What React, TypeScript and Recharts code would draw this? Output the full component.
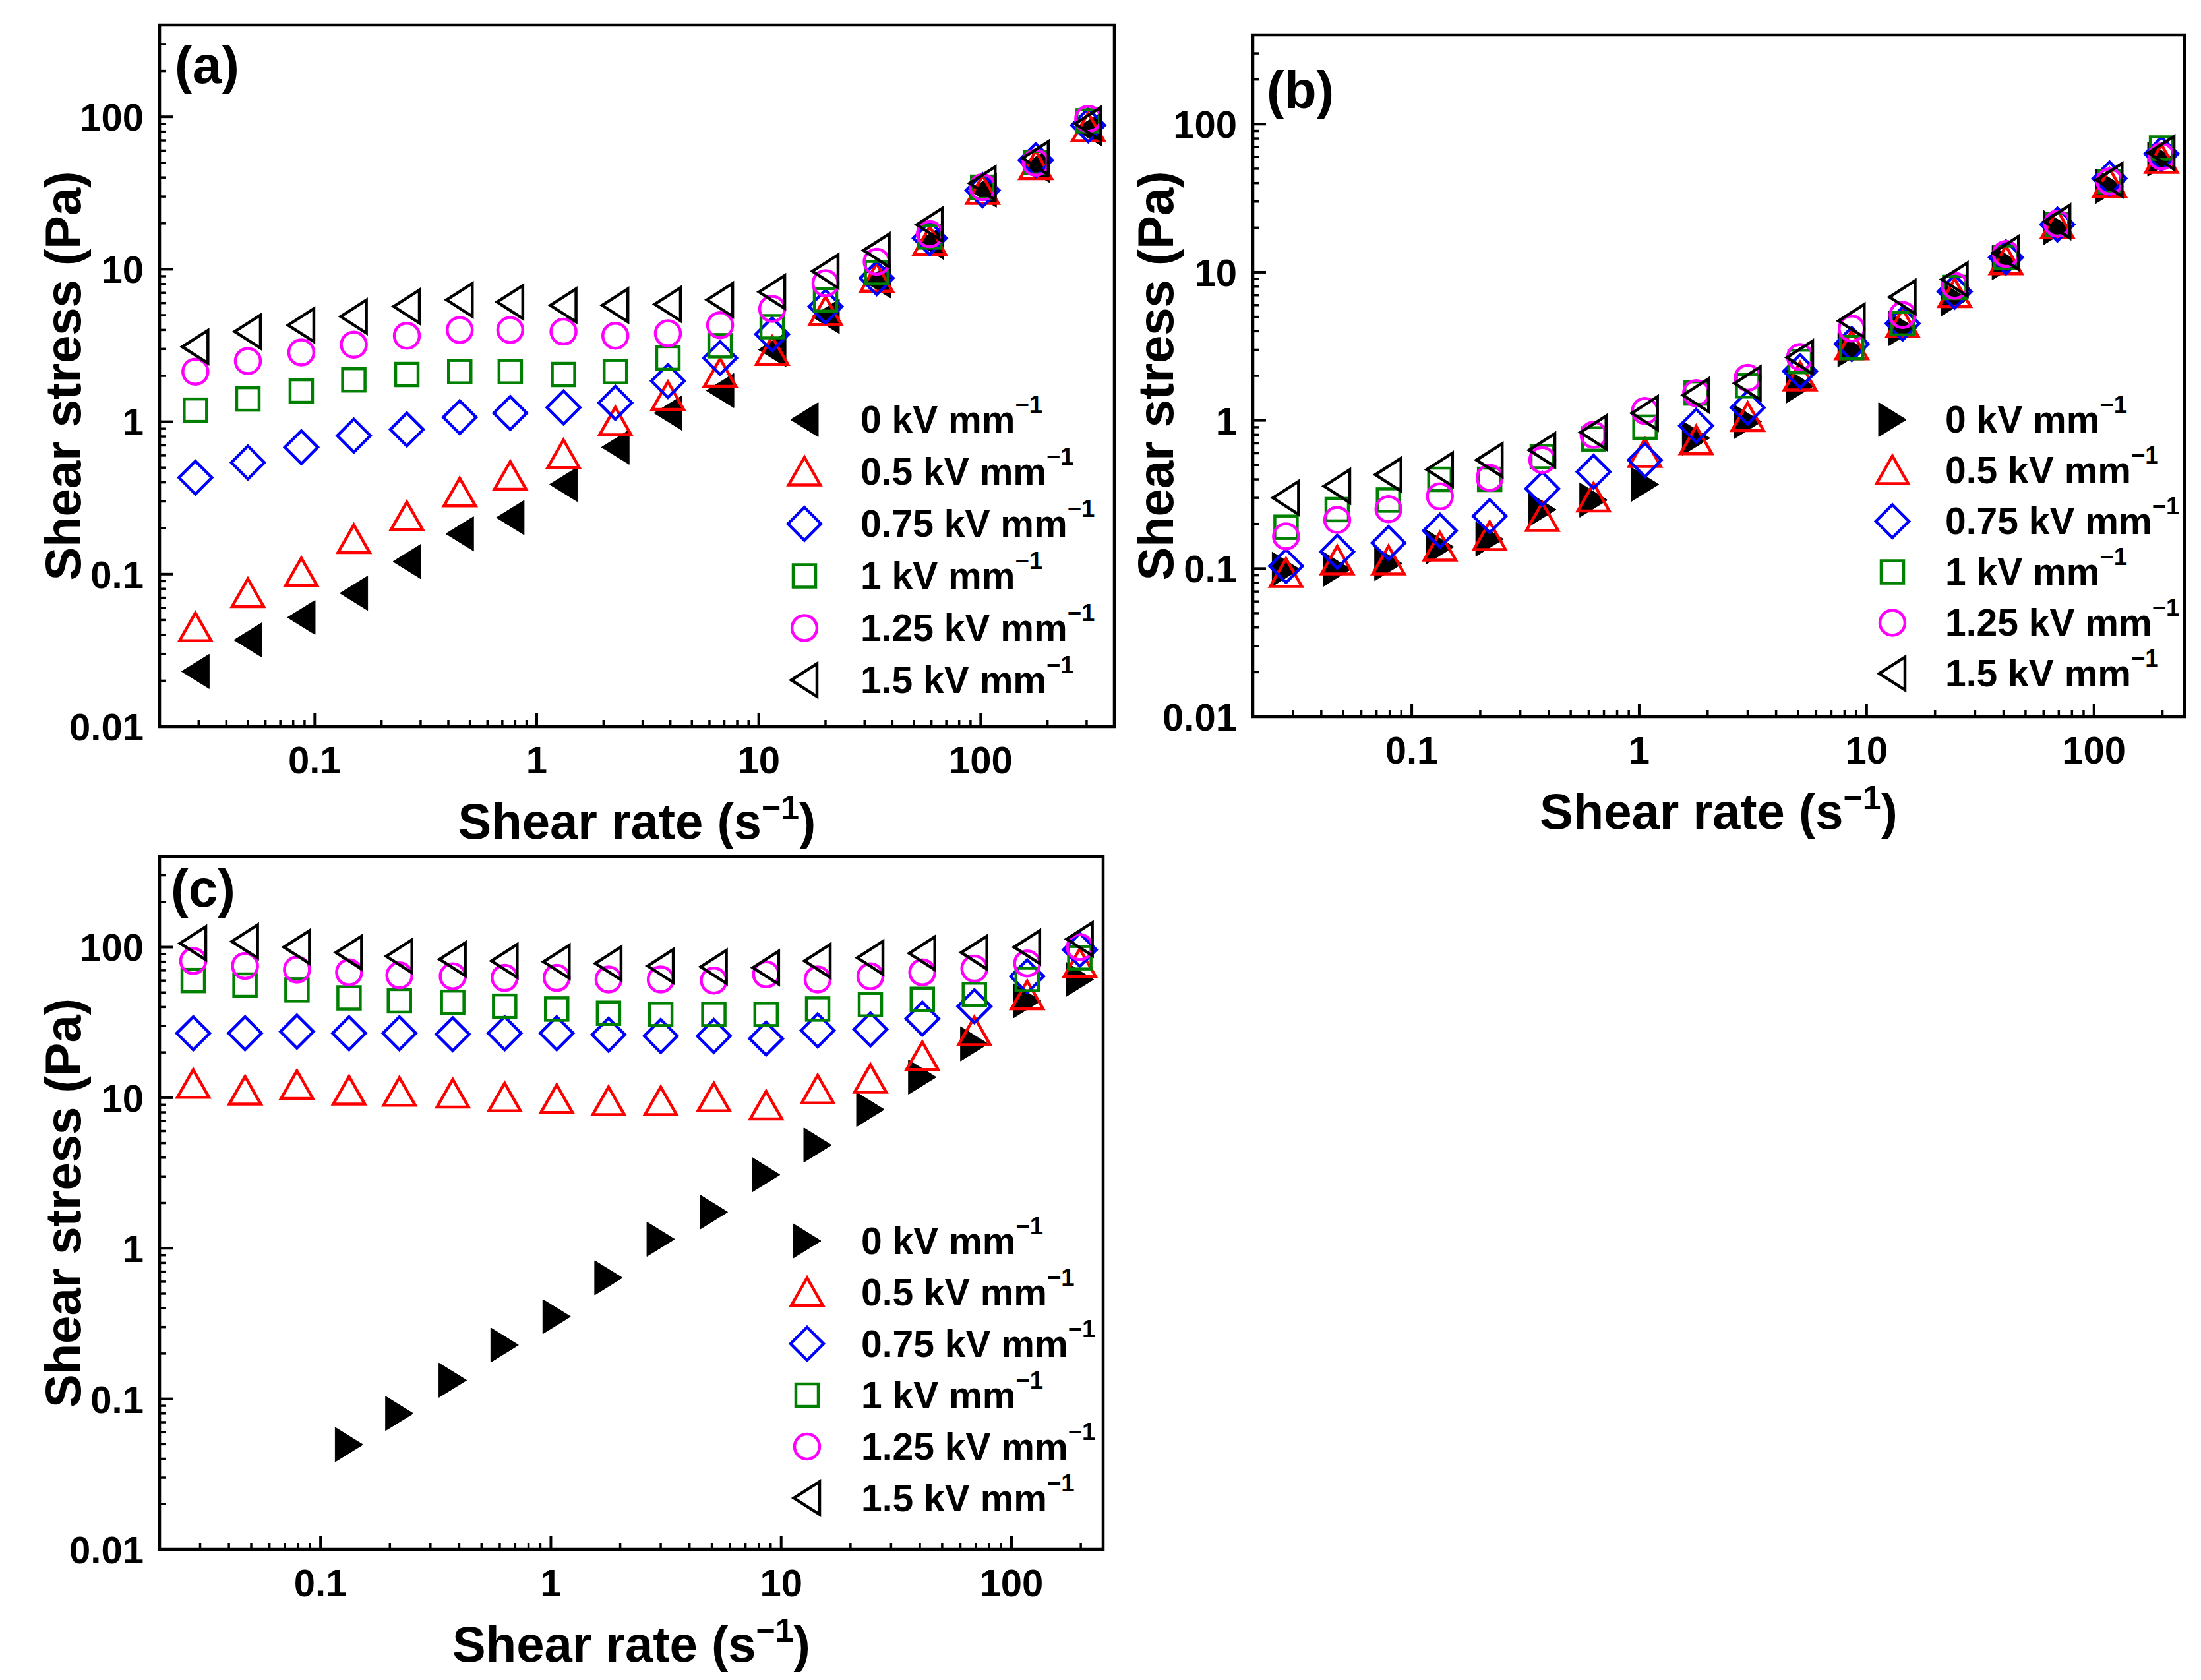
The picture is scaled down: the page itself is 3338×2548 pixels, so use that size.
import React from 'react';
import { ScatterChart, Scatter, XAxis, YAxis, ReferenceArea, Legend, Label } from 'recharts';

const FONT = '"Liberation Sans", Arial, Helvetica, sans-serif';

// ---------- Panel (a) ----------
const aShearRate = [0.029, 0.05, 0.087, 0.15, 0.26, 0.45, 0.76, 1.32, 2.26, 3.9, 6.7, 11.5, 20, 34, 59, 102, 177, 305];
const aStress0 = [0.023, 0.037, 0.052, 0.075, 0.121, 0.184, 0.235, 0.388, 0.68, 1.14, 1.6, 2.97, 4.9, 8.4, 15, 33, 48, 83];
const aStress05 = [0.0447, 0.0748, 0.1025, 0.169, 0.239, 0.342, 0.44, 0.61, 1.0, 1.47, 2.08, 2.9, 5.3, 8.75, 15.3, 33, 48, 85];
const aStress075 = [0.43, 0.54, 0.68, 0.81, 0.89, 1.07, 1.14, 1.24, 1.33, 1.85, 2.62, 3.75, 5.7, 8.75, 16, 33, 52, 88];
const aStress1 = [1.19, 1.41, 1.59, 1.88, 2.04, 2.13, 2.13, 2.04, 2.13, 2.62, 3.15, 4.2, 6.3, 9.5, 16.3, 34.5, 50, 94];
const aStress125 = [2.13, 2.5, 2.85, 3.2, 3.66, 4.0, 4.0, 3.9, 3.66, 3.8, 4.3, 5.5, 8.1, 11.2, 17, 34.5, 50, 97];
const aStress15 = [3.1, 3.9, 4.3, 4.9, 5.7, 6.3, 6.1, 5.8, 5.8, 5.9, 6.3, 7.1, 9.7, 13.3, 19.6, 36.6, 53.6, 90];

// ---------- Panel (b) ----------
const bShearRate = [0.028, 0.047, 0.079, 0.133, 0.22, 0.375, 0.63, 1.06, 1.78, 3.0, 5.1, 8.6, 14.4, 24.4, 41, 69, 117, 198];
const bStress0 = [0.099, 0.099, 0.108, 0.14, 0.158, 0.25, 0.29, 0.37, 0.76, 0.98, 1.71, 3.0, 4.17, 6.6, 11.6, 20, 38, 58];
const bStress05 = [0.093, 0.113, 0.113, 0.14, 0.165, 0.222, 0.3, 0.6, 0.73, 1.05, 1.97, 3.2, 4.5, 7.2, 12, 21, 40, 58];
const bStress075 = [0.104, 0.13, 0.149, 0.18, 0.226, 0.346, 0.45, 0.54, 0.92, 1.22, 2.15, 3.28, 4.5, 7.4, 12.6, 21, 43, 63];
const bStress1 = [0.19, 0.25, 0.29, 0.4, 0.4, 0.57, 0.75, 0.9, 1.53, 1.71, 2.5, 3.1, 4.5, 7.9, 12.6, 21, 41, 69];
const bStress125 = [0.165, 0.213, 0.252, 0.307, 0.41, 0.54, 0.8, 1.16, 1.53, 1.94, 2.68, 4.17, 5.15, 8.1, 13.3, 21.3, 41, 60.5];
const bStress15 = [0.3, 0.36, 0.43, 0.466, 0.54, 0.63, 0.83, 1.12, 1.48, 1.78, 2.66, 4.7, 6.8, 8.95, 13.5, 22, 42, 64];

// ---------- Panel (c) ----------
const cShearRate = [0.028, 0.047, 0.079, 0.133, 0.22, 0.375, 0.63, 1.06, 1.78, 3.0, 5.1, 8.6, 14.4, 24.4, 41, 69, 117, 198];
const cShearRate0 = [0.133, 0.22, 0.375, 0.63, 1.06, 1.78, 3.0, 5.1, 8.6, 14.4, 24.4, 41, 69, 117, 198];
const cStress0 = [0.0497, 0.08, 0.133, 0.228, 0.352, 0.637, 1.15, 1.74, 3.08, 4.85, 8.35, 13.7, 22.8, 44, 61];
const cStress05 = [12.3, 11.1, 12.1, 11.1, 10.9, 10.6, 10.0, 9.76, 9.44, 9.44, 10, 8.84, 11.3, 13.3, 18.8, 27.5, 47.7, 78];
const cStress075 = [26.8, 26.8, 27.5, 26.8, 26.8, 26.4, 26.8, 26.8, 26.2, 25.7, 25.7, 24.7, 28, 28.4, 33.5, 40.5, 64, 96];
const cStress1 = [60, 56, 52, 46, 44, 43, 40.5, 38.8, 36.4, 35.8, 35.8, 35.8, 38.8, 41.5, 45, 48.5, 61, 85];
const cStress125 = [81, 75, 71, 68, 65, 64, 62.5, 62.5, 61, 61, 60, 66, 61, 64, 68, 72, 78, 100];
const cStress15 = [106, 109, 100, 92, 87, 83, 81, 80, 78, 75, 74, 73, 81, 85, 91, 92, 100, 113];

// ---------- Labels and ticks ----------
const seriesNames = ['0 kV mm', '0.5 kV mm', '0.75 kV mm', '1 kV mm', '1.25 kV mm', '1.5 kV mm'];
const yMajorTicks = [0.01, 0.1, 1, 10, 100];
const yTickLabels = ['0.01', '0.1', '1', '10', '100'];
const yMinorTicks = [0.02, 0.03, 0.04, 0.05, 0.06, 0.07, 0.08, 0.09, 0.2, 0.3, 0.4, 0.5, 0.6, 0.7, 0.8, 0.9, 2, 3, 4, 5, 6, 7, 8, 9, 20, 30, 40, 50, 60, 70, 80, 90, 200, 300, 400];
const xMajorTicks = [0.1, 1, 10, 100];
const xTickLabels = ['0.1', '1', '10', '100'];
const xMinorTicksA = [0.02, 0.03, 0.04, 0.05, 0.06, 0.07, 0.08, 0.09, 0.2, 0.3, 0.4, 0.5, 0.6, 0.7, 0.8, 0.9, 2, 3, 4, 5, 6, 7, 8, 9, 20, 30, 40, 50, 60, 70, 80, 90, 200, 300, 400];
const xMinorTicksBC = [0.02, 0.03, 0.04, 0.05, 0.06, 0.07, 0.08, 0.09, 0.2, 0.3, 0.4, 0.5, 0.6, 0.7, 0.8, 0.9, 2, 3, 4, 5, 6, 7, 8, 9, 20, 30, 40, 50, 60, 70, 80, 90, 200];
const xDomainA = [0.02, 400];
const xDomainBC = [0.02, 250];
const yDomain = [0.01, 400];

const zip = (xs: number[], ys: number[]) => ys.map((y, i) => ({ x: xs[i], y }));

const SW = 4.5;

type Kind = 'filledLeft' | 'filledRight' | 'openUp' | 'openDiamond' | 'openSquare' | 'openCircle' | 'openLeft';

function Marker({ kind, cx, cy, color }: { kind: Kind; cx: number; cy: number; color: string }) {
  switch (kind) {
    case 'filledLeft':
      return <polygon points={`${cx - 21},${cy} ${cx + 21},${cy - 26} ${cx + 21},${cy + 26}`} fill={color} stroke={color} strokeWidth={1} />;
    case 'filledRight':
      return <polygon points={`${cx + 21},${cy} ${cx - 21},${cy - 26} ${cx - 21},${cy + 26}`} fill={color} stroke={color} strokeWidth={1} />;
    case 'openLeft':
      return <polygon points={`${cx - 20},${cy} ${cx + 19},${cy - 25} ${cx + 19},${cy + 25}`} fill="none" stroke={color} strokeWidth={SW} />;
    case 'openUp':
      return <polygon points={`${cx},${cy - 22} ${cx - 24},${cy + 20} ${cx + 24},${cy + 20}`} fill="none" stroke={color} strokeWidth={SW} />;
    case 'openDiamond':
      return <polygon points={`${cx},${cy - 25} ${cx + 25},${cy} ${cx},${cy + 25} ${cx - 25},${cy}`} fill="none" stroke={color} strokeWidth={SW} />;
    case 'openSquare':
      return <rect x={cx - 17} y={cy - 17} width={34} height={34} fill="none" stroke={color} strokeWidth={SW} />;
    case 'openCircle':
      return <circle cx={cx} cy={cy} r={19} fill="none" stroke={color} strokeWidth={SW} />;
    default:
      return null;
  }
}

const YTick = (props: any) => {
  const { x, y, payload } = props;
  const idx = yMajorTicks.indexOf(payload.value);
  const major = idx >= 0;
  return (
    <g>
      <line x1={x} x2={x + (major ? 20 : 10)} y1={y} y2={y} stroke="#000" strokeWidth={major ? 4 : 3.5} />
      {major && (
        <text x={x - 24} y={y} dy="0.36em" textAnchor="end" fontFamily={FONT} fontWeight="bold" fontSize={58} fill="#000">
          {yTickLabels[idx]}
        </text>
      )}
    </g>
  );
};

const XTick = (props: any) => {
  const { x, y, payload } = props;
  const idx = xMajorTicks.indexOf(payload.value);
  const major = idx >= 0;
  return (
    <g>
      <line x1={x} x2={x} y1={y} y2={y - (major ? 20 : 10)} stroke="#000" strokeWidth={major ? 4 : 3.5} />
      {major && (
        <text x={x} y={y + 50} dy="0.36em" textAnchor="middle" fontFamily={FONT} fontWeight="bold" fontSize={58} fill="#000">
          {xTickLabels[idx]}
        </text>
      )}
    </g>
  );
};

type SeriesDef = { data: { x: number; y: number }[]; kind: Kind; color: string };

type PanelProps = {
  left: number;
  top: number;
  width: number;
  height: number;
  margin: { top: number; right: number; bottom: number; left: number };
  yAxisWidth: number;
  xAxisHeight: number;
  xDomain: number[];
  xMinor: number[];
  series: SeriesDef[];
  legend: { x: number; y: number; rowH: number; gap: number };
  label: { text: string; x: number; y: number };
  yTitleX: number;
};

function LegendBox({ series, rowH, gap }: { series: SeriesDef[]; rowH: number; gap: number }) {
  return (
    <div style={{ fontFamily: FONT, fontWeight: 'bold', fontSize: 57, color: '#000' }}>
      {series.map((s, i) => (
        <div key={i} style={{ display: 'flex', alignItems: 'center', height: rowH, whiteSpace: 'nowrap' }}>
          <svg width={60} height={rowH} style={{ flex: 'none', overflow: 'visible' }}>
            <Marker kind={s.kind} cx={30} cy={rowH / 2} color={s.color} />
          </svg>
          <span style={{ marginLeft: gap, lineHeight: 1 }}>
            {seriesNames[i]}
            <span style={{ fontSize: '0.64em', position: 'relative', top: '-0.8em' }}>−1</span>
          </span>
        </div>
      ))}
    </div>
  );
}

function Panel(p: PanelProps) {
  const plotLeft = p.margin.left + p.yAxisWidth;
  const plotTop = p.margin.top;
  const plotW = p.width - plotLeft - p.margin.right;
  const plotH = p.height - p.margin.top - p.margin.bottom - p.xAxisHeight;
  const xTitle = () => (
    <text x={plotLeft + plotW / 2} y={plotTop + plotH + 170} textAnchor="middle" fontFamily={FONT} fontWeight="bold" fontSize={76} fill="#000">
      Shear rate (s
      <tspan dy={-30} fontSize={50}>−1</tspan>
      <tspan dy={30}>)</tspan>
    </text>
  );
  const yTitle = () => {
    const cx = p.yTitleX;
    const cy = plotTop + plotH / 2;
    return (
      <text x={cx} y={cy} dy="0.36em" textAnchor="middle" transform={`rotate(-90, ${cx}, ${cy})`} fontFamily={FONT} fontWeight="bold" fontSize={76} fill="#000">
        Shear stress (Pa)
      </text>
    );
  };
  const panelLabel = () => (
    <text x={p.label.x} y={p.label.y} fontFamily={FONT} fontWeight="bold" fontSize={80} fill="#000">
      {p.label.text}
    </text>
  );
  return (
    <div style={{ position: 'absolute', left: p.left, top: p.top, width: p.width, height: p.height }}>
      <ScatterChart width={p.width} height={p.height} margin={p.margin}>
        <XAxis
          type="number"
          dataKey="x"
          scale="log"
          domain={p.xDomain}
          allowDataOverflow
          ticks={[...xMajorTicks, ...p.xMinor]}
          interval={0}
          tick={XTick}
          tickLine={false}
          axisLine={false}
          tickSize={0}
          tickMargin={0}
          height={p.xAxisHeight}
        >
          <Label content={xTitle} />
        </XAxis>
        <YAxis
          type="number"
          dataKey="y"
          scale="log"
          domain={yDomain}
          allowDataOverflow
          ticks={[...yMajorTicks, ...yMinorTicks]}
          interval={0}
          tick={YTick}
          tickLine={false}
          axisLine={false}
          tickSize={0}
          tickMargin={0}
          width={p.yAxisWidth}
        >
          <Label content={yTitle} />
          <Label content={panelLabel} />
        </YAxis>
        <ReferenceArea
          x1={p.xDomain[0]}
          x2={p.xDomain[1]}
          y1={yDomain[0]}
          y2={yDomain[1]}
          fill="none"
          fillOpacity={0}
          stroke="#000"
          strokeWidth={4.5}
          ifOverflow="visible"
        />
        {p.series.map((s, i) => (
          <Scatter
            key={i}
            name={seriesNames[i]}
            data={s.data}
            isAnimationActive={false}
            shape={(sp: any) => <Marker kind={s.kind} cx={sp.cx} cy={sp.cy} color={s.color} />}
          />
        ))}
        <Legend
          layout="vertical"
          align="center"
          verticalAlign="middle"
          wrapperStyle={{ left: p.legend.x - 30, top: p.legend.y - p.legend.rowH / 2, width: 600, height: p.legend.rowH * 6 }}
          content={() => <LegendBox series={p.series} rowH={p.legend.rowH} gap={p.legend.gap} />}
        />
      </ScatterChart>
    </div>
  );
}

const RED = '#ff0000';
const BLUE = '#0000ff';
const GREEN = '#008000';
const MAGENTA = '#ff00ff';
const BLACK = '#000000';

const seriesA: SeriesDef[] = [
  { data: zip(aShearRate, aStress0), kind: 'filledLeft', color: BLACK },
  { data: zip(aShearRate, aStress05), kind: 'openUp', color: RED },
  { data: zip(aShearRate, aStress075), kind: 'openDiamond', color: BLUE },
  { data: zip(aShearRate, aStress1), kind: 'openSquare', color: GREEN },
  { data: zip(aShearRate, aStress125), kind: 'openCircle', color: MAGENTA },
  { data: zip(aShearRate, aStress15), kind: 'openLeft', color: BLACK },
];
const seriesB: SeriesDef[] = [
  { data: zip(bShearRate, bStress0), kind: 'filledRight', color: BLACK },
  { data: zip(bShearRate, bStress05), kind: 'openUp', color: RED },
  { data: zip(bShearRate, bStress075), kind: 'openDiamond', color: BLUE },
  { data: zip(bShearRate, bStress1), kind: 'openSquare', color: GREEN },
  { data: zip(bShearRate, bStress125), kind: 'openCircle', color: MAGENTA },
  { data: zip(bShearRate, bStress15), kind: 'openLeft', color: BLACK },
];
const seriesC: SeriesDef[] = [
  { data: zip(cShearRate0, cStress0), kind: 'filledRight', color: BLACK },
  { data: zip(cShearRate, cStress05), kind: 'openUp', color: RED },
  { data: zip(cShearRate, cStress075), kind: 'openDiamond', color: BLUE },
  { data: zip(cShearRate, cStress1), kind: 'openSquare', color: GREEN },
  { data: zip(cShearRate, cStress125), kind: 'openCircle', color: MAGENTA },
  { data: zip(cShearRate, cStress15), kind: 'openLeft', color: BLACK },
];

export default function App() {
  return (
    <div style={{ position: 'absolute', left: 0, top: 0, width: 3338, height: 2548, background: '#fff', overflow: 'hidden' }}>
      <Panel
        left={0}
        top={0}
        width={1700}
        height={1290}
        margin={{ top: 38, right: 10, bottom: 0, left: 0 }}
        yAxisWidth={242}
        xAxisHeight={188}
        xDomain={xDomainA}
        xMinor={xMinorTicksA}
        series={seriesA}
        legend={{ x: 1220, y: 636, rowH: 79, gap: 55 }}
        label={{ text: '(a)', x: 265, y: 126 }}
        yTitleX={95}
      />
      <Panel
        left={1700}
        top={0}
        width={1638}
        height={1290}
        margin={{ top: 53, right: 25, bottom: 0, left: 0 }}
        yAxisWidth={200}
        xAxisHeight={203}
        xDomain={xDomainBC}
        xMinor={xMinorTicksBC}
        series={seriesB}
        legend={{ x: 1170, y: 636, rowH: 77, gap: 50 }}
        label={{ text: '(b)', x: 221, y: 164 }}
        yTitleX={52}
      />
      <Panel
        left={0}
        top={1290}
        width={1700}
        height={1258}
        margin={{ top: 9, right: 27, bottom: 0, left: 0 }}
        yAxisWidth={242}
        xAxisHeight={198}
        xDomain={xDomainBC}
        xMinor={xMinorTicksBC}
        series={seriesC}
        legend={{ x: 1224, y: 592, rowH: 78, gap: 52 }}
        label={{ text: '(c)', x: 259, y: 85 }}
        yTitleX={95}
      />
    </div>
  );
}
